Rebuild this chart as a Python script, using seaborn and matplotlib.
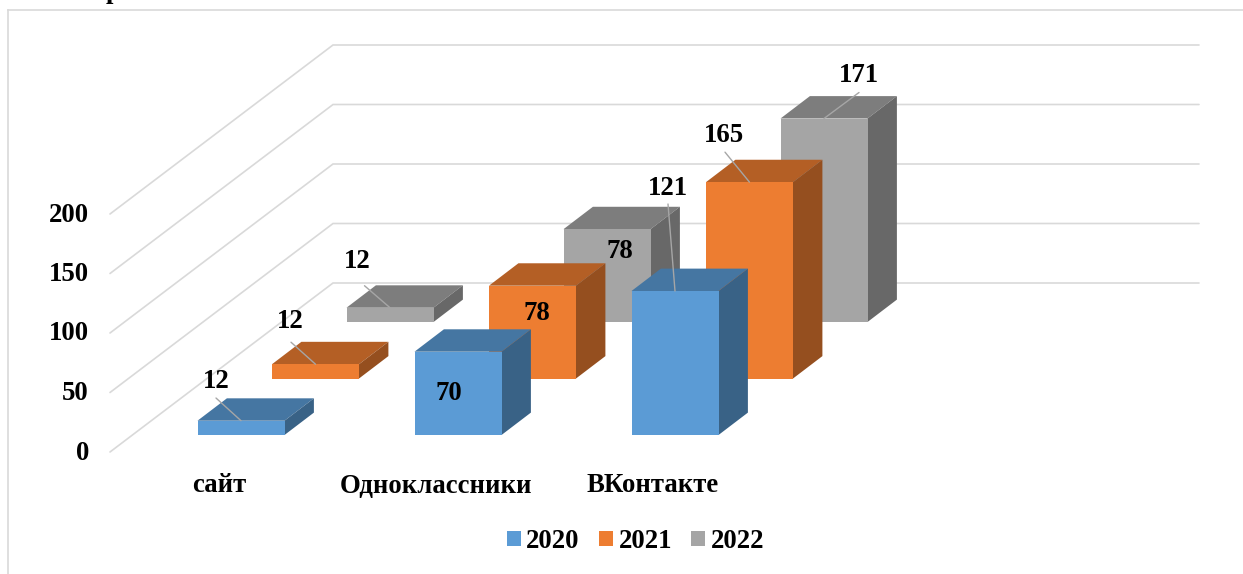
import matplotlib
matplotlib.use("Agg")
import matplotlib.pyplot as plt
from matplotlib.colors import to_rgb
from matplotlib.patches import Polygon, Patch
import seaborn as sns

# ---- data ----
categories = ["сайт", "Одноклассники", "ВКонтакте"]
years = ["2020", "2021", "2022"]
values_2020 = [12, 70, 121]
values_2021 = [12, 78, 165]
values_2022 = [12, 78, 171]
y_ticks = [0, 50, 100, 150, 200]

# ---- styling / layout ----
colors = ["#5B9BD5", "#ED7D31", "#A5A5A5"]
FONT = "Liberation Serif"
FS = 19.3
W, H = 1243, 574
PX = 1.19            # pixels per value unit
X0 = 241.0           # centre of first front bar (px)
STEP = 217           # category spacing (px)
BAR_W = 87
SER_DX = 74.5        # shift per depth row (px)
SER_DY = 56.5 / PX   # baseline rise per depth row (units)
DEPTH_X = 29.4
DEPTH_Y = 22.4 / PX
BASE_PX = 435        # front row baseline (px from top)
WALL_L = 110
WALL_B = 333
WALL_R = 1199
WALL_LEFT_OFF = (BASE_PX - 452) / PX
WALL_BACK_OFF = (BASE_PX - 283) / PX
GRID = "#D9D9D9"

# label offsets from the top-centre of each bar (px), leader end offsets (or None)
label_off = {
    0: [(-25, 39.2), (-9, -41.5), (-7, 102.5)],
    1: [(-25.5, 42.5), (4.5, -27.5), (-25.5, 46.5)],
    2: [(-33, 46.5), (13, -22.5), (35, 43)],
}
leader_off = {
    0: [(-25, 22.7), None, (-7, 87)],
    1: [(-24.5, 22), None, (-24.5, 30)],
    2: [(-25.5, 22), None, (35, 26)],
}

sns.set_theme(style="white")
plt.rcParams["font.family"] = [FONT, "DejaVu Sans"]
plt.rcParams["font.weight"] = "bold"
plt.rcParams["text.color"] = "black"
plt.rcParams["xtick.color"] = "black"
plt.rcParams["ytick.color"] = "black"

fig = plt.figure(figsize=(W / 100, H / 100), dpi=100, facecolor="white")
ax = fig.add_axes([8 / W, 0, 1 - 8 / W, 1 - 10 / H])
ax.set_facecolor("white")


def darker(c, f):
    return tuple(v * f for v in to_rgb(c))


# walls / gridlines
for t in y_ticks:
    ax.plot([WALL_L, WALL_B, WALL_R],
            [t + WALL_LEFT_OFF, t + WALL_BACK_OFF, t + WALL_BACK_OFF],
            color=GRID, lw=1.2, zorder=1, solid_joinstyle="miter")

series = [values_2020, values_2021, values_2022]
# back rows first
for i in (2, 1, 0):
    vals = series[i]
    xs = [X0 + SER_DX * i + STEP * k for k in range(len(categories))]
    base = SER_DY * i
    col = colors[i]
    z = 5 - i
    n_before = len(ax.patches)
    sns.barplot(x=xs, y=vals, native_scale=True, width=BAR_W / STEP, color=col,
                saturation=1, errorbar=None, bottom=base, ax=ax, zorder=z + 0.5,
                edgecolor=col, linewidth=0)
    for k, bar in enumerate(ax.patches[n_before:]):
        x0, y0 = bar.get_x(), bar.get_y()
        w, h = bar.get_width(), bar.get_height()
        x1, y1 = x0 + w, y0 + h
        ax.add_patch(Polygon([(x0, y1), (x1, y1), (x1 + DEPTH_X, y1 + DEPTH_Y),
                              (x0 + DEPTH_X, y1 + DEPTH_Y)], closed=True,
                             fc=darker(col, 0.76), ec="none", zorder=z))
        ax.add_patch(Polygon([(x1, y0), (x1, y1), (x1 + DEPTH_X, y1 + DEPTH_Y),
                              (x1 + DEPTH_X, y0 + DEPTH_Y)], closed=True,
                             fc=darker(col, 0.63), ec="none", zorder=z))
        cx = x0 + w / 2
        ax.annotate(str(vals[k]), xy=(cx, y1), xytext=label_off[i][k],
                    textcoords="offset pixels", ha="center", va="center",
                    fontsize=FS, fontweight="bold", color="black", zorder=20,
                    family=FONT)
        if leader_off[i][k] is not None:
            ax.annotate("", xy=(cx, y1), xytext=leader_off[i][k],
                        textcoords="offset pixels", zorder=19,
                        arrowprops=dict(arrowstyle="-", color="#A6A6A6", lw=1.0,
                                        shrinkA=0, shrinkB=0))

ax.set_xlim(8, W)
ax.set_ylim((BASE_PX - H) / PX, (BASE_PX - 10) / PX)

# axes labels
ax.set_xticks([X0 - 22 + STEP * k for k in range(len(categories))], categories)
ax.set_yticks([t + (BASE_PX - 450) / PX for t in y_ticks], [str(t) for t in y_ticks])
ax.set_xlabel("")
ax.set_ylabel("")
ax.tick_params(axis="x", length=0, pad=-(H - 473.5) * 0.72, labelsize=FS)
ax.tick_params(axis="y", length=0, pad=-(89 - 8) * 0.72, labelsize=FS)
for s in ("right", "bottom"):
    ax.spines[s].set_visible(False)
for s in ("left", "top"):
    ax.spines[s].set_visible(True)
    ax.spines[s].set_color(GRID)
    ax.spines[s].set_linewidth(1.2)

# legend
handles = [Patch(facecolor=c, edgecolor="none", label=y) for c, y in zip(colors, years)]
leg = ax.legend(handles=handles, ncol=3, frameon=False, loc="center",
                bbox_to_anchor=(635.5 / W, 1 - 541.5 / H), bbox_transform=fig.transFigure,
                fontsize=FS, handlelength=0.52, handleheight=0.52,
                handletextpad=0.2, columnspacing=0.72, borderpad=0, borderaxespad=0)

# cut-off heading fragment at the very top of the picture
fig.text(113 / W, 1 + 1.5 / H, "р", ha="center", va="baseline", fontsize=FS,
         fontweight="bold", color="black")

fig.savefig("out.png", dpi=100, facecolor="white")
